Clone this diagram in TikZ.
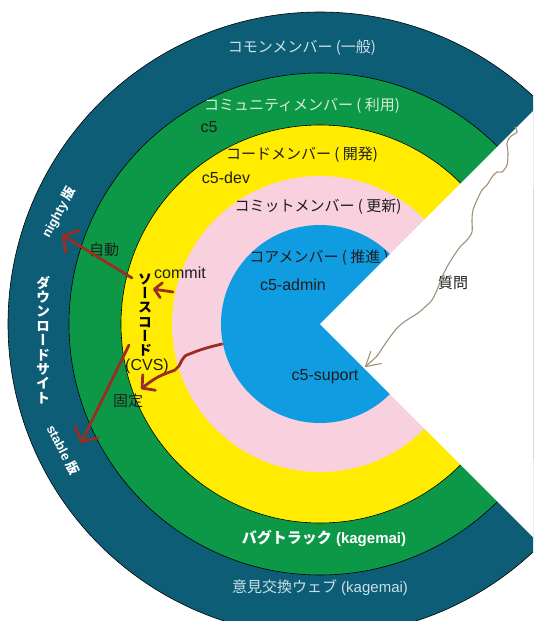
\documentclass[tikz,border=0pt]{standalone}
\usepackage{fontspec}
\setmainfont{Liberation Sans}
\newfontfamily\jp{Noto Sans CJK JP}
\newfontfamily\jpv[RawFeature=+vert]{Noto Sans CJK JP}
\usetikzlibrary{arrows.meta}

\definecolor{ringteal}{RGB}{14,93,118}
\definecolor{ringgreen}{RGB}{12,152,70}
\definecolor{ringyellow}{RGB}{255,236,0}
\definecolor{ringpink}{RGB}{248,208,222}
\definecolor{ringblue}{RGB}{16,156,224}
\definecolor{arrowred}{RGB}{155,45,35}
\definecolor{pencil}{RGB}{160,144,120}
\definecolor{paleteal}{RGB}{200,224,232}
\definecolor{palegreen}{RGB}{214,238,218}
\definecolor{inkdark}{RGB}{30,30,30}

\tikzset{
  lbl/.style={inner sep=0pt, font=\fontsize{15}{18}\selectfont, text=inkdark},
  latin/.style={inner sep=0pt, font=\fontsize{16}{19}\selectfont, text=inkdark},
  vlbl/.style={inner sep=0pt, align=center},
  redarrow/.style={draw=arrowred, line width=2.8pt, line cap=round,
    -{Straight Barb[round,length=11pt,width=26pt]}},
  smallred/.style={draw=arrowred, line width=2.8pt, line cap=round,
    -{Straight Barb[round,length=7pt,width=15pt]}},
  pencilarrow/.style={draw=pencil, line width=1.1pt, line cap=round,
    -{Straight Barb[round,length=14pt,width=16pt]}},
  ringedge/.style={draw=black, line width=0.6pt}
}

\begin{document}
\begin{tikzpicture}[x=1pt,y=-1pt]
\useasboundingbox (0,0) rectangle (533,621);
\clip (0,0) rectangle (533,621);

% concentric membership rings
\coordinate (O) at (320,324);
\fill[ringteal, ringedge] (O) circle[radius=312];
\fill[ringgreen, ringedge] (O) circle[radius=251];
\fill[ringyellow, ringedge] (O) circle[radius=199];
\fill[ringpink] (O) circle[radius=148];
\fill[ringblue] (O) circle[radius=99];

\node[lbl] (core) at (319,258) {{\jp コアメンバー ( 推進 )}};

% open quarter on the right
\fill[white] (O) -- ++(450,-450) -- ++(0,900) -- cycle;

% ring titles
\node[lbl, text=paleteal] (common) at (302,48) {{\jp コモンメンバー (一般)}};
\node[lbl, text=palegreen] (community) at (302,106) {{\jp コミュニティメンバー ( 利用)}};
\node[latin] (c5) at (209,127) {c5};
\node[lbl] (code) at (302,155) {{\jp コードメンバー ( 開発)}};
\node[latin] (c5dev) at (226,178) {c5-dev};
\node[lbl] (commitm) at (318,207) {{\jp コミットメンバー ( 更新)}};
\node[latin] (c5admin) at (293,285) {c5-admin};
\node[latin] (c5suport) at (325,377) {c5-suport};
\node[lbl] (question) at (453,283) {{\jp 質問}};

\node[lbl, text=white, font=\bfseries\fontsize{15}{18}\selectfont] (bugtrack) at (324,538)
  {{\jp\bfseries バグトラック} (kagemai)};
\node[lbl, text=paleteal] (opinion) at (320,588) {{\jp 意見交換ウェブ} (kagemai)};

% download site labels on the outer ring
\node[lbl, text=white, rotate=61, font=\bfseries\fontsize{13}{16}\selectfont] (nighty) at (59,212)
  {nighty {\jp\bfseries 版}};
\node[lbl, text=white, rotate=-63, font=\bfseries\fontsize{13}{16}\selectfont] (stable) at (63,450)
  {stable {\jp\bfseries 版}};
\node[vlbl, text=white, font=\jpv\bfseries\fontsize{14}{14.4}\selectfont] (dlsite) at (43,340)
  {ダ\\ウ\\ン\\ロ\\ー\\ド\\サ\\イ\\ト};

% source code repository
\node[vlbl, text=black, font=\jpv\bfseries\fontsize{14}{14.3}\selectfont] (source) at (145,315)
  {ソ\\ー\\ス\\コ\\ー\\ド};
\node[latin] (cvs) at (147,366) {(CVS)};
\node[lbl] (auto) at (104,250) {{\jp 自動}};
\node[latin] (commit) at (180,273) {commit};
\node[lbl] (fixed) at (128,401) {{\jp 固定}};

% flows between repository and sites
\coordinate (srcTop) at (132,278);
\coordinate (nightyTip) at (62,235);
\coordinate (srcLow) at (129,345);
\coordinate (stableTip) at (81,443);
\coordinate (commitFrom) at (173,292);
\coordinate (commitTip) at (153,289);
\coordinate (adminFrom) at (222,344);
\coordinate (fixedTip) at (141,389);
\coordinate (askFrom) at (515,127);
\coordinate (askTip) at (365,367);

\draw[redarrow] (srcTop) -- (nightyTip);
\draw[redarrow] (srcLow) -- (stableTip);
\draw[smallred] (commitFrom) -- (commitTip);
\draw[draw=arrowred, line width=2.8pt, line cap=round, line join=round,
      -{Straight Barb[round,length=9pt,width=20pt]}]
  plot[smooth, tension=0.6] coordinates {(adminFrom) (210,347) (200,350) (192,353) (185,356)
    (182,360) (179,366) (175,370) (167,373) (158,377) (150,382) (fixedTip)};

% hand-drawn question path
\draw[pencilarrow]
  plot[smooth, tension=0.5] coordinates {(askFrom) (517,132) (510,137) (507,143) (508,153)
    (507,165) (502,172) (497,172) (492,177) (487,185) (482,190) (477,200) (473,210)
    (472,220) (472,232) (467,240) (460,247) (453,257) (447,267) (442,277) (437,290)
    (432,300) (425,307) (418,313) (407,320) (398,327) (390,337) (383,347) (377,356)
    (askTip)};
\end{tikzpicture}
\end{document}
